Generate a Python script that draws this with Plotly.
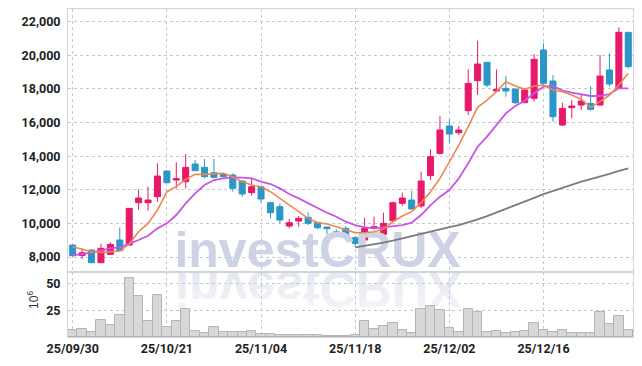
import base64
import plotly.graph_objects as go
from plotly.subplots import make_subplots

# ---- data -------------------------------------------------------------
dates = ["25/09/30", "25/10/01", "25/10/02", "25/10/10", "25/10/13", "25/10/14", "25/10/15",
         "25/10/16", "25/10/17", "25/10/20", "25/10/21", "25/10/22", "25/10/23", "25/10/24",
         "25/10/27", "25/10/28", "25/10/29", "25/10/30", "25/10/31", "25/11/03", "25/11/04",
         "25/11/05", "25/11/06", "25/11/07", "25/11/10", "25/11/11", "25/11/12", "25/11/13",
         "25/11/14", "25/11/17", "25/11/18", "25/11/19", "25/11/20", "25/11/21", "25/11/24",
         "25/11/25", "25/11/26", "25/11/27", "25/11/28", "25/12/01", "25/12/02", "25/12/03",
         "25/12/04", "25/12/05", "25/12/08", "25/12/09", "25/12/10", "25/12/11", "25/12/12",
         "25/12/15", "25/12/16", "25/12/17", "25/12/18", "25/12/19", "25/12/22", "25/12/23",
         "25/12/24", "25/12/26", "25/12/29", "25/12/30"]

open_ = [8714, 8099, 8417, 7663, 8159, 9012, 8714, 11233, 11233, 11590,
         13117, 12581, 12482, 13534, 13335, 13018, 12919, 12879, 12522, 11828,
         12185, 11233, 10995, 9845, 10142, 10360, 10063, 9785, 9507, 9706,
         9150, 9012, 9706, 9349, 10162, 11193, 11392, 11035, 12839, 14168,
         15795, 15398, 16707, 18492, 19583, 17877, 18036, 17996, 17183, 17441,
         20317, 18472, 15854, 16886, 17044, 17143, 17044, 19127, 18036, 21368]
high = [8740, 8516, 8440, 8793, 8873, 9765, 10896, 12026, 12185, 13573,
        13140, 13633, 14128, 13772, 13832, 13832, 12979, 12979, 12540, 12720,
        12200, 11300, 11193, 10262, 10440, 10658, 10080, 9800, 9646, 9845,
        9250, 10340, 10400, 10638, 11293, 11828, 11927, 13077, 14406, 16390,
        16192, 15795, 19166, 20872, 19600, 19166, 18770, 18000, 18036, 20079,
        20713, 18830, 17183, 17342, 17699, 18175, 20019, 20118, 21665, 21380]
low = [8050, 7881, 7640, 7663, 8140, 8360, 8714, 10797, 10757, 11292,
       12380, 12086, 12086, 13137, 12681, 12681, 12740, 11887, 11590, 11650,
       11253, 10301, 10003, 9706, 9805, 9904, 9646, 9369, 9309, 9111,
       8615, 8615, 9646, 9310, 10140, 11054, 10856, 10896, 12582, 14069,
       14803, 15259, 16449, 17639, 18095, 17860, 17540, 17104, 17183, 17243,
       18135, 16052, 15795, 16251, 16747, 16707, 17000, 18135, 18036, 19225]
close = [8079, 8258, 7663, 8516, 8754, 8377, 10896, 11511, 11392, 12820,
         12423, 12661, 13335, 13137, 12780, 12740, 12780, 12086, 11749, 12185,
         11451, 10638, 10202, 10043, 10301, 10003, 9745, 9686, 9448, 9210,
         8813, 9706, 9805, 10003, 11233, 11511, 10856, 12522, 13970, 15557,
         15319, 15557, 18333, 19484, 18234, 17976, 17877, 17183, 17936, 19761,
         18333, 16350, 16846, 16985, 17282, 16787, 18770, 18294, 21368, 19325]

ma5 = [8615, 8476, 8317, 8278, 8298, 8357, 8774, 9508, 10003, 10797,
       11887, 12185, 12621, 12919, 12919, 12939, 12979, 12780, 12482, 12284,
       12185, 11888, 11491, 11094, 10698, 10301, 10043, 9964, 9805, 9646,
       9448, 9448, 9507, 9666, 10103, 10440, 10698, 11233, 11887, 12681,
       13672, 14664, 15755, 16906, 17342, 17838, 18432, 18175, 17976, 18175,
       18234, 17937, 17837, 17639, 17381, 16906, 17243, 17639, 18234, 18929]
ma10 = [8100, 8159, 8258, 8400, 8516, 8576, 8774, 9012, 9270, 9706,
        10003, 10500, 11193, 11788, 12284, 12582, 12681, 12740, 12720, 12681,
        12482, 12343, 12086, 11749, 11491, 11193, 10896, 10638, 10400, 10103,
        9904, 9765, 9706, 9765, 9845, 9904, 10043, 10500, 11094, 11590,
        11987, 12681, 13574, 14565, 15160, 15854, 16548, 16985, 17302, 17739,
        18135, 18175, 17897, 17778, 17699, 17580, 17580, 17699, 18036, 18036]
ma_long = [None] * 30 + [8575, 8655, 8754, 8853, 8972, 9111, 9250, 9369, 9507, 9646,
                         9780, 9900, 10050, 10240, 10430, 10640, 10850, 11060, 11290, 11520,
                         11740, 11930, 12110, 12300, 12490, 12630, 12770, 12950, 13130, 13270]

volume = [6.9, 7.8, 4.7, 16.3, 11.6, 20.9, 55.3, 38.8, 15.3, 39.4,
          9.7, 15.3, 26.6, 5.9, 4.1, 9.7, 5.0, 5.0, 5.0, 5.9,
          3.1, 3.1, 2.2, 2.2, 2.2, 1.6, 1.6, 1.3, 1.2, 1.2,
          1.5, 14.7, 7.5, 10.3, 13.1, 6.6, 3.75, 26.6, 29.1, 25.6,
          8.4, 4.7, 26.3, 23.4, 4.7, 5.6, 3.75, 4.7, 5.6, 13.1,
          6.6, 4.7, 6.6, 3.75, 3.75, 3.75, 23.4, 12.5, 19.7, 6.6]

tick_dates = ["25/09/30", "25/10/21", "25/11/04", "25/11/18", "25/12/02", "25/12/16"]
price_ticks = [8000, 10000, 12000, 14000, 16000, 18000, 20000, 22000]
vol_ticks = [25, 50]

# ---- styles -----------------------------------------------------------
UP = "#e8196b"
DOWN = "#2b96c8"
TICK_FONT = dict(family="Roboto, Liberation Sans, sans-serif",
                 size=12.5, color="#222222", weight="bold")
WM_FONT = "Liberation Sans, Arial, sans-serif"

fig = make_subplots(rows=2, cols=1, shared_xaxes=True, vertical_spacing=0,
                    row_heights=[0.802, 0.198])

# watermark (behind the candles)
fig.add_trace(go.Scatter(x=[dates[26]], y=[8178], mode="text", text=["investCRUX"],
                         textposition="middle center",
                         textfont=dict(family=WM_FONT, size=50, color="#cdd3e5", weight="bold"),
                         hoverinfo="skip", showlegend=False), row=1, col=1)

fig.add_trace(go.Candlestick(x=dates, open=open_, high=high, low=low, close=close,
                             increasing=dict(line=dict(color=UP, width=1), fillcolor=UP),
                             decreasing=dict(line=dict(color=DOWN, width=1), fillcolor=DOWN),
                             whiskerwidth=0, showlegend=False, hoverinfo="skip"), row=1, col=1)

fig.add_trace(go.Scatter(x=dates, y=ma_long, mode="lines",
                         line=dict(color="#7b7b7b", width=1.8), showlegend=False,
                         hoverinfo="skip"), row=1, col=1)
fig.add_trace(go.Scatter(x=dates, y=ma10, mode="lines",
                         line=dict(color="#c955e6", width=1.8), showlegend=False,
                         hoverinfo="skip"), row=1, col=1)
fig.add_trace(go.Scatter(x=dates, y=ma5, mode="lines",
                         line=dict(color="#ef8650", width=1.6), showlegend=False,
                         hoverinfo="skip"), row=1, col=1)

fig.add_trace(go.Bar(x=dates, y=volume, marker=dict(color="#d8d8d8",
                                                    line=dict(color="#b3b3b3", width=1)),
                     showlegend=False, hoverinfo="skip"), row=2, col=1)

# reflection of watermark (decorative)
svg = ('<svg xmlns="http://www.w3.org/2000/svg" width="300" height="44" viewBox="0 0 300 44">'
       '<defs><linearGradient id="g" x1="0" y1="0" x2="0" y2="1">'
       '<stop offset="0" stop-color="#e0e4ee" stop-opacity="0.3"/>'
       '<stop offset="1" stop-color="#e0e4ee" stop-opacity="1"/></linearGradient></defs>'
       '<text x="0" y="0" transform="scale(1,-1)" font-family="Liberation Sans, Arial, sans-serif" '
       'font-weight="bold" font-size="50" fill="url(#g)">investCRUX</text></svg>')
src = "data:image/svg+xml;base64," + base64.b64encode(svg.encode()).decode()
fig.add_layout_image(dict(source=src, xref="paper", yref="paper", x=0.1895, y=0.198,
                          sizex=300 / 564.7, sizey=44 / 328.3, sizing="stretch",
                          xanchor="left", yanchor="top", layer="below"))

axis_common = dict(showgrid=True, gridcolor="#c3c7d8", griddash="dot", gridwidth=1,
                   showline=True, linecolor="#d3d3da", linewidth=1, mirror=True,
                   zeroline=False, ticks="", tickfont=TICK_FONT, automargin=False)

fig.update_xaxes(type="category", categoryorder="array", categoryarray=dates,
                 range=[-0.5, 59.5], tickvals=tick_dates, ticktext=tick_dates,
                 rangeslider_visible=False, **axis_common)
fig.update_xaxes(showticklabels=False, row=1, col=1)

fig.update_yaxes(range=[7107, 22756], tickvals=price_ticks, tickformat=",",
                 ticklabelstandoff=4, **axis_common, row=1, col=1)
fig.update_yaxes(range=[0, 61], tickvals=vol_ticks, ticklabelstandoff=4,
                 **axis_common, row=2, col=1)

fig.add_annotation(text="10<sup>6</sup>", xref="paper", yref="paper", x=-0.062, y=0.113,
                   xanchor="center", yanchor="middle",
                   showarrow=False, textangle=-90,
                   font=dict(family="Liberation Sans, Arial, sans-serif", size=12, color="#333333"))

# page body has an 8px margin: figure is sized/margined to land on the reference plot area
fig.update_layout(width=626, height=350, margin=dict(l=60, r=1.3, t=1, b=20.7),
                  paper_bgcolor="white", plot_bgcolor="white", bargap=0,
                  boxgap=0.2, boxgroupgap=0.2,
                  hovermode=False, showlegend=False)

fig.write_html("out.html")
